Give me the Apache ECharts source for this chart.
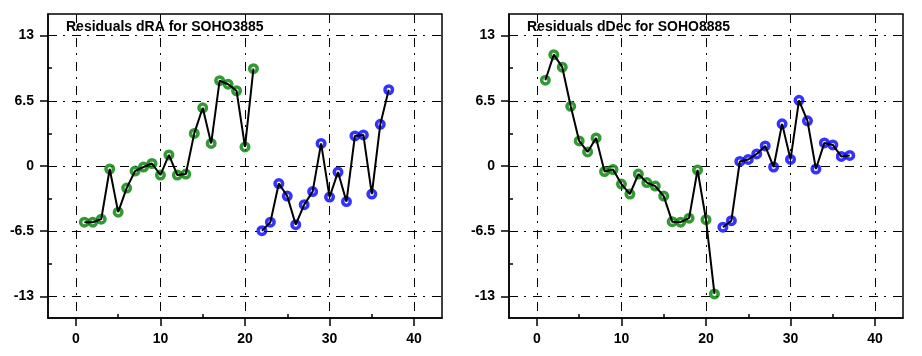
<!DOCTYPE html>
<html>
<head>
<meta charset="utf-8">
<script src="https://cdn.jsdelivr.net/npm/echarts@6/dist/echarts.min.js"></script>
<style>
html,body{margin:0;padding:0;background:#fff;}
#chart{width:922px;height:356px;}
</style>
</head>
<body>
<div id="chart"></div>
<script>
// ---- data ----
const greenIndex = [1,2,3,4,5,6,7,8,9,10,11,12,13,14,15,16,17,18,19,20,21];
const blueIndex = [22,23,24,25,26,27,28,29,30,31,32,33,34,35,36,37];
const dRAGreen = [-5.6,-5.6,-5.3,-0.3,-4.6,-2.2,-0.5,-0.1,0.25,-0.9,1.1,-0.9,-0.8,3.25,5.8,2.25,8.5,8.15,7.5,1.9,9.7];
const dRABlue = [-6.45,-5.6,-1.75,-3.0,-5.85,-3.85,-2.55,2.25,-3.1,-0.6,-3.55,3.0,3.1,-2.8,4.15,7.6];
const dDecGreen = [8.55,11.1,9.85,5.95,2.5,1.4,2.8,-0.55,-0.35,-1.8,-2.8,-0.8,-1.65,-2.0,-3.0,-5.55,-5.6,-5.2,-0.4,-5.35,-12.75];
const dDecBlue = [-6.1,-5.45,0.45,0.65,1.2,2.0,-0.1,4.2,0.65,6.55,4.5,-0.3,2.3,2.1,0.95,1.05];
const titles = ['Residuals dRA for SOHO3885', 'Residuals dDec for SOHO8885'];
const xTickLabels = [0,10,20,30,40];
const xMinorTicks = [5,15,25,35];
const yTickLabels = [-13,-6.5,0,6.5,13];
const yMinorTicks = [-9.75,-3.25,3.25,9.75];
const xRange = [-3.3, 43.3];
const yRange = [-15.15, 15.15];

const GREEN = '#008000', BLUE = '#0000ff';
const font = 'Liberation Sans';

const chart = echarts.init(document.getElementById('chart'));

const grids = [
  {left: 48, right: 480, top: 14, bottom: 38},
  {left: 509, right: 19, top: 14, bottom: 38}
];

const xAxes = [], yAxes = [], series = [], titleList = [];
const panels = [[dRAGreen, dRABlue], [dDecGreen, dDecBlue]];
const dash = [9, 6, 2, 7];

grids.forEach((g, i) => {
  g.show = true; g.borderColor = '#000'; g.borderWidth = 1.5; g.backgroundColor = 'transparent';
  xAxes.push({
    type: 'value', gridIndex: i, min: xRange[0], max: xRange[1], position: 'bottom',
    axisLine: {show: true, onZero: false, lineStyle: {color: '#000', width: 1.5}},
    axisTick: {show: true, inside: false, length: 8, customValues: xTickLabels, lineStyle: {color: '#000', width: 1.5}},
    axisLabel: {show: true, customValues: xTickLabels, color: '#000', fontFamily: font, fontWeight: 'bold', fontSize: 14, margin: 14},
    splitLine: {show: true, lineStyle: {color: '#000', width: 1, type: dash}}
  });
  xAxes.push({
    type: 'value', gridIndex: i, min: xRange[0], max: xRange[1], position: 'bottom',
    axisLine: {show: false, onZero: false},
    axisTick: {show: true, inside: true, length: 4, customValues: xMinorTicks, lineStyle: {color: '#000', width: 1.5}},
    axisLabel: {show: false},
    splitLine: {show: false}
  });
  yAxes.push({
    type: 'value', gridIndex: i, min: yRange[0], max: yRange[1], position: 'left',
    axisLine: {show: true, onZero: false, lineStyle: {color: '#000', width: 1.5}},
    axisTick: {show: true, inside: false, length: 8, customValues: yTickLabels, lineStyle: {color: '#000', width: 1.5}},
    axisLabel: {show: true, customValues: yTickLabels, color: '#000', fontFamily: font, fontWeight: 'bold', fontSize: 14, margin: 14},
    splitLine: {show: true, lineStyle: {color: '#000', width: 1, type: dash}}
  });
  yAxes.push({
    type: 'value', gridIndex: i, min: yRange[0], max: yRange[1], position: 'left',
    axisLine: {show: false, onZero: false},
    axisTick: {show: true, inside: true, length: 4, customValues: yMinorTicks, lineStyle: {color: '#000', width: 1.5}},
    axisLabel: {show: false},
    splitLine: {show: false}
  });

  const green = greenIndex.map((x, k) => [x, panels[i][0][k]]);
  const blue = blueIndex.map((x, k) => [x, panels[i][1][k]]);
  const mk = (data, color) => ({
    type: 'scatter', xAxisIndex: i * 2, yAxisIndex: i * 2, data: data,
    symbol: 'circle', symbolSize: 7.5, z: 3, silent: true,
    itemStyle: {color: 'rgba(0,0,0,0)', borderColor: color, borderWidth: 3.5}
  });
  const ln = (data) => ({
    type: 'line', xAxisIndex: i * 2, yAxisIndex: i * 2, data: data,
    showSymbol: false, symbol: 'none', z: 4, silent: true,
    lineStyle: {color: '#000', width: 2}
  });
  series.push(mk(green, GREEN), mk(blue, BLUE), ln(green), ln(blue));

  titleList.push({
    text: titles[i], left: (i === 0 ? 66 : 527), top: 20, padding: 0,
    textStyle: {fontFamily: font, fontWeight: 'bold', fontSize: 14, color: '#000'}
  });
});

chart.setOption({
  animation: false,
  title: titleList,
  grid: grids,
  xAxis: xAxes,
  yAxis: yAxes,
  series: series
});
</script>
</body>
</html>
